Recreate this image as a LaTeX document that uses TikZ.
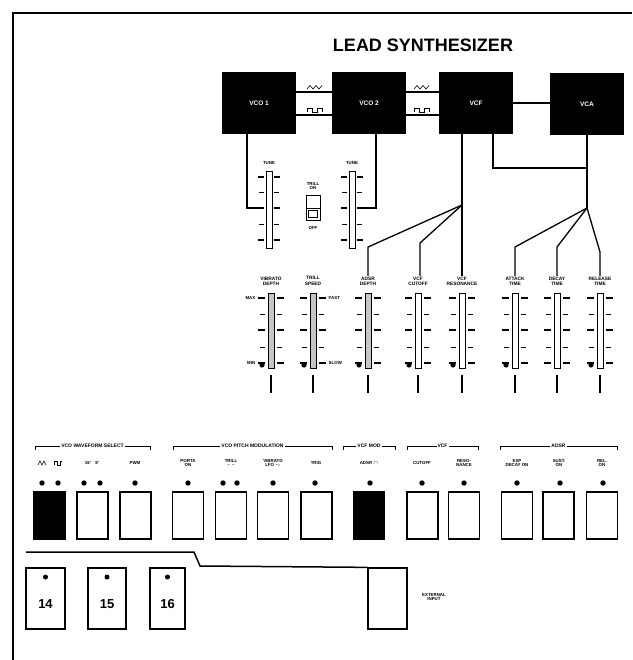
\documentclass[tikz,border=0pt]{standalone}
\usepackage{fontspec}
\setmainfont{Liberation Sans}
\begin{document}
\begin{tikzpicture}[x=1pt,y=-1pt,
  blk/.style={fill=black,minimum width=74pt,minimum height=62pt,inner sep=0,text=white,font=\fontsize{6.5}{7}\selectfont\bfseries},
  btn/.style={draw,line width=1.3pt,minimum width=31pt,minimum height=47pt,inner sep=0},
  btnblk/.style={btn,fill=black},
  bigbtn/.style={draw,line width=1.3pt,minimum height=61pt,inner sep=0,font=\fontsize{13}{14}\selectfont\bfseries},
  conn/.style={line width=1.3pt},
  tiny/.style={font=\fontsize{4.4}{4.8}\selectfont\bfseries,align=center,inner sep=0.5pt},
  lbl/.style={font=\fontsize{4.8}{5.3}\selectfont\bfseries,align=center,inner sep=0.5pt},
  grp/.style={font=\fontsize{5}{5.5}\selectfont\bfseries,fill=white,inner sep=1pt},
  wave/.style={line width=0.6pt},
  led/.style={fill=black},
]
\useasboundingbox (0,0) rectangle (632,660);
% frame
\draw[line width=2pt] (13,660) -- (13,13) -- (632,13);
% title
\node[font=\fontsize{18}{20}\selectfont\bfseries] (title) at (423,45) {LEAD SYNTHESIZER};
% modules
\node[blk] (vco1) at (259,103) {VCO 1};
\node[blk] (vco2) at (369,103) {VCO 2};
\node[blk] (vcf) at (476,103) {VCF};
\node[blk] (vca) at (587,104) {VCA};
% audio paths
\draw[conn] ([yshift=11pt]vco1.east) -- ([yshift=11pt]vco2.west);
\draw[conn] ([yshift=-12pt]vco1.east) -- ([yshift=-12pt]vco2.west);
\draw[conn] ([yshift=11pt]vco2.east) -- ([yshift=11pt]vcf.west);
\draw[conn] ([yshift=-12pt]vco2.east) -- ([yshift=-12pt]vcf.west);
\draw[conn] (vcf.east) -- (vca.west |- vcf.east);
% waveform symbols
\foreach \cx in {315,422} {
  \draw[wave] (\cx-8,89) -- (\cx-5,85.5) -- (\cx-2,89) -- (\cx+1,85.5) -- (\cx+4,89) -- (\cx+7,85.5);
  \draw[wave] (\cx-8,112) -- (\cx-8,108) -- (\cx-3,108) -- (\cx-3,112) -- (\cx+2,112) -- (\cx+2,108) -- (\cx+7,108) -- (\cx+7,112);
}
% ---- upper sliders (tune) ----
\foreach \c in {269,352} {
  \draw[line width=1pt,fill=white] (\c-3,172) rectangle (\c+3,248);
  \foreach \yy in {177,208,240} {\draw[line width=1.1pt] (\c-11,\yy) -- (\c-5,\yy) (\c+5,\yy) -- (\c+11,\yy);}
  \foreach \yy in {192,224} {\draw[line width=0.7pt] (\c-10,\yy) -- (\c-5,\yy) (\c+5,\yy) -- (\c+10,\yy);}
}
\node[tiny] (tune1) at (269,163) {TUNE};
\node[tiny] (tune2) at (352,163) {TUNE};
\coordinate (t1m) at (258,208);
\coordinate (t2m) at (363,208);
\draw[conn] ([xshift=-12pt]vco1.south) |- (t1m);
\draw[conn] ([xshift=7pt]vco2.south) |- (t2m);
% switch
\node[tiny] (swlab) at (313,186) {TRILL\\ON};
\draw[line width=1pt] (306,196) rectangle (320,220);
\draw[line width=1pt] (306,208) -- (320,208);
\draw[line width=1.5pt] (308.5,210.5) rectangle (317.5,217.5);
\node[tiny] (swoff) at (313,228) {OFF};
% ---- lower sliders ----
\newcommand\lsl[3]{%
  \draw[line width=1pt,fill=#2] (#1-3,293) rectangle (#1+3,368);
  \foreach \yy in {298,330,363} {\draw[line width=1.2pt] (#1-13,\yy) -- (#1-6,\yy) (#1+6,\yy) -- (#1+13,\yy);}
  \foreach \yy in {314,347} {\draw[line width=0.8pt] (#1-11,\yy) -- (#1-6,\yy) (#1+6,\yy) -- (#1+11,\yy);}
  \ifnum#3=1 \fill (#1-9,365) circle (2.6pt);\fi
  \draw[conn] (#1,375) -- (#1,393);
}
\lsl{271}{gray!45}{1}
\lsl{313}{gray!45}{1}
\lsl{368}{gray!45}{1}
\lsl{418}{white}{1}
\lsl{462}{white}{1}
\lsl{515}{white}{1}
\lsl{557}{white}{0}
\lsl{600}{white}{1}
\node[lbl] (lvib) at (271,281) {VIBRATO\\DEPTH};
\node[lbl] (ltrl) at (313,281) {TRILL\\SPEED};
\node[lbl] (ladsr) at (368,281) {ADSR\\DEPTH};
\node[lbl] (lcut) at (418,281) {VCF\\CUTOFF};
\node[lbl] (lres) at (462,281) {VCF\\RESONANCE};
\node[lbl] (latk) at (515,281) {ATTACK\\TIME};
\node[lbl] (ldec) at (557,281) {DECAY\\TIME};
\node[lbl] (lrel) at (600,281) {RELEASE\\TIME};
\node[tiny,anchor=east] at (256,298) {MAX};
\node[tiny,anchor=east] at (256,363) {MIN};
\node[tiny,anchor=west] at (328,298) {FAST};
\node[tiny,anchor=west] at (328,363) {SLOW};
% control routing
\coordinate (jf) at (462,205);
\coordinate (jv) at (587,168);
\coordinate (ja) at (587,208);
\draw[conn] ([xshift=-14pt]vcf.south) -- (lres.north);
\draw[conn] (jf) -- (368,247) -- (ladsr.north);
\draw[conn] (jf) -- (420,243) -- (lcut.north -| 420,0);
\draw[conn] ([xshift=17pt]vcf.south) |- (jv);
\draw[conn] (vca.south) -- (ja);
\draw[conn] (ja) -- (515,247) -- (latk.north);
\draw[conn] (ja) -- (557,247) -- (ldec.north);
\draw[conn] (ja) -- (600,252) -- (lrel.north);
% ---- bottom panel: group brackets ----
\newcommand\grpb[4]{%
  \draw[line width=0.8pt] (#1,450) -- (#1,446) -- (#2,446) -- (#2,450);
  \node[grp] (#4) at ({(#1+#2)/2},446) {#3};
}
\grpb{35}{150}{VCO WAVEFORM SELECT}{gws}
\grpb{173}{332}{VCO PITCH MODULATION}{gpm}
\grpb{343}{395}{VCF MOD}{gvm}
\grpb{407}{478}{VCF}{gvf}
\grpb{500}{617}{ADSR}{gad}
% sub-labels
\draw[wave] (38,465) -- (40,461) -- (42,465) -- (44,461) -- (46,465);
\draw[wave] (54,465) -- (54,461) -- (57,461) -- (57,465) -- (60,465) -- (60,461) -- (62,461);
\node[tiny] (s2) at (92,463) {16'\quad 8'};
\node[tiny] (s3) at (135,463) {PWM};
\node[tiny] (s4) at (188,463) {PORTA\\ON};
\node[tiny] (s5) at (231,463) {TRILL\\-- \ --};
\node[tiny] (s6) at (273,463) {VIBRATO\\LFO $\sim$};
\node[tiny] (s7) at (316,463) {TRIG};
\node[tiny] (s8) at (369,463) {ADSR $\cap$};
\node[tiny] (s9) at (422,463) {CUTOFF};
\node[tiny] (s10) at (464,463) {RESO-\\NANCE};
\node[tiny] (s11) at (517,463) {EXP\\DECAY ON};
\node[tiny] (s12) at (559,463) {SUST.\\ON};
\node[tiny] (s13) at (602,463) {REL.\\ON};
% leds
\foreach \lx in {42,58,84,100,135,188,223,237,273,315,370,422,464,517,560,603}
  {\fill[led] (\lx,483) circle (2.7pt);}
% buttons
\node[btnblk] (b1) at (49.5,515.5) {};
\node[btn] (b2) at (92.5,515.5) {};
\node[btn] (b3) at (135.5,515.5) {};
\node[btn] (b4) at (188,515.5) {};
\node[btn] (b5) at (231,515.5) {};
\node[btn] (b6) at (273,515.5) {};
\node[btn] (b7) at (316.5,515.5) {};
\node[btnblk] (b8) at (369,515.5) {};
\node[btn] (b9) at (422.5,515.5) {};
\node[btn] (b10) at (464,515.5) {};
\node[btn] (b11) at (517,515.5) {};
\node[btn] (b12) at (558.5,515.5) {};
\node[btn] (b13) at (602,515.5) {};
% lower row
\node[bigbtn,minimum width=39pt] (b14) at (45.5,598.5) {};
\node[bigbtn,minimum width=38pt] (b15) at (107,598.5) {};
\node[bigbtn,minimum width=35pt] (b16) at (167.5,598.5) {};
\node[font=\fontsize{13}{14}\selectfont\bfseries] at (45.5,604) {14};
\node[font=\fontsize{13}{14}\selectfont\bfseries] at (107,604) {15};
\node[font=\fontsize{13}{14}\selectfont\bfseries] at (167.5,604) {16};
\fill (45.5,577) circle (2.5pt);
\fill (107,577) circle (2.5pt);
\fill (167.5,577) circle (2.5pt);
\node[draw,line width=1.3pt,minimum width=39pt,minimum height=61pt,inner sep=0] (ext) at (387.5,598.5) {};
\node[tiny] (extlab) at (434,597) {EXTERNAL\\INPUT};
\coordinate (sep0) at (26,552);
\draw[line width=1.5pt] (sep0) -- (194,552) -- (200,566) -- (ext.north west);
\end{tikzpicture}
\end{document}
